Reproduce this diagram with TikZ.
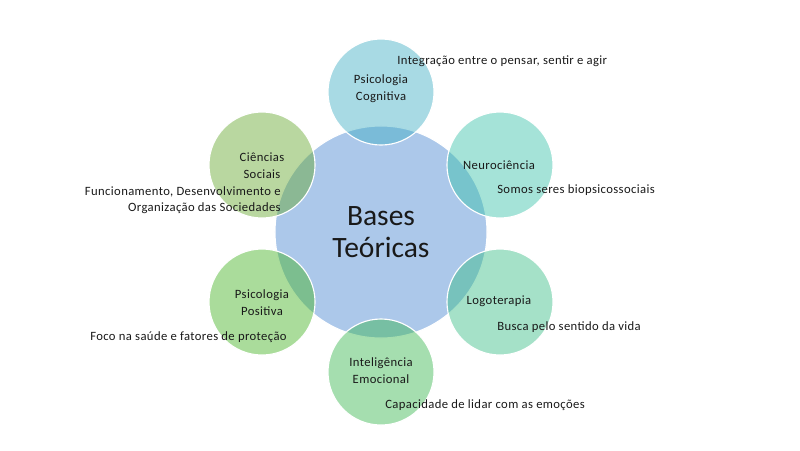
\documentclass[tikz,border=0pt]{standalone}
\usepackage{fontspec}
\setmainfont{Carlito}
\newfontfamily\spacedfont[LetterSpace=3]{Carlito}
\usepackage{tikz}
\usetikzlibrary{positioning}

\definecolor{centralblue}{RGB}{172,200,234}
\definecolor{cogcolor}{RGB}{62,173,195}
\definecolor{neurocolor}{RGB}{55,193,168}
\definecolor{logocolor}{RGB}{55,188,133}
\definecolor{emoccolor}{RGB}{55,181,77}
\definecolor{positcolor}{RGB}{66,178,33}
\definecolor{soccolor}{RGB}{99,166,44}

\begin{document}
\begin{tikzpicture}[
      x=0.025cm, y=-0.025cm, % unidades em pixels da imagem
      hub/.style={circle, draw=white, line width=0.8pt, fill=centralblue,
        minimum size=5.3cm, inner sep=0pt},
      petal/.style={circle, draw=white, line width=0.8pt, fill opacity=0.45,
        minimum size=2.65cm, inner sep=0pt},
      petaltext/.style={align=center, font=\spacedfont\fontsize{9}{12}\selectfont, text=black!90},
      desc/.style={font=\spacedfont\fontsize{9}{11}\selectfont, text=black!90, inner sep=0pt},
  ]
      \useasboundingbox (0,0) rectangle (800,450);

      % --- CÍRCULO CENTRAL ---
      \node[hub] (bases) at (381,232) {};

      % --- CÍRCULOS EXTERNOS ---
      \node[petal, fill=cogcolor] (cog) at (381,92) {};
      \node[petal, fill=neurocolor] (neuro) at (500,165) {};
      \node[petal, fill=logocolor] (logo) at (500,302) {};
      \node[petal, fill=emoccolor] (emoc) at (381,372) {};
      \node[petal, fill=positcolor] (posit) at (262,302) {};
      \node[petal, fill=soccolor] (soc) at (262,165) {};

      % --- TEXTOS DOS CÍRCULOS ---
      \node[align=center, font=\fontsize{21}{23}\selectfont, text=black!90] (basestext) at (bases) {Bases\\Teóricas};
      \node[petaltext] (cogtext) at (381,89) {Psicologia\\Cognitiva};
      \node[petaltext] (neurotext) at (499,165) {Neurociência};
      \node[petaltext] (logotext) at (499,301) {Logoterapia};
      \node[petaltext] (emoctext) at (381,371) {Inteligência\\Emocional};
      \node[petaltext] (posittext) at (262,303) {Psicologia\\Positiva};
      \node[petaltext] (soctext) at (262,166) {Ciências\\Sociais};

      % --- DESCRIÇÕES ---
      \node[desc, anchor=west] (cogdesc) at (397,61) {Integração entre o pensar, sentir e agir};
      \node[desc, anchor=west] (neurodesc) at (497,190) {Somos seres biopsicossociais};
      \node[desc, anchor=west] (logodesc) at (497,327) {Busca pelo sentido da vida};
      \node[desc, anchor=west] (emocdesc) at (385,405) {Capacidade de lidar com as emoções};
      \node[desc, anchor=west] (positdesc) at (90,337) {Foco na saúde e fatores de proteção};
      \node[desc, anchor=east, align=right] (socdesc) at (281,200) {Funcionamento, Desenvolvimento e\\Organização das Sociedades};

  \end{tikzpicture}
\end{document}
